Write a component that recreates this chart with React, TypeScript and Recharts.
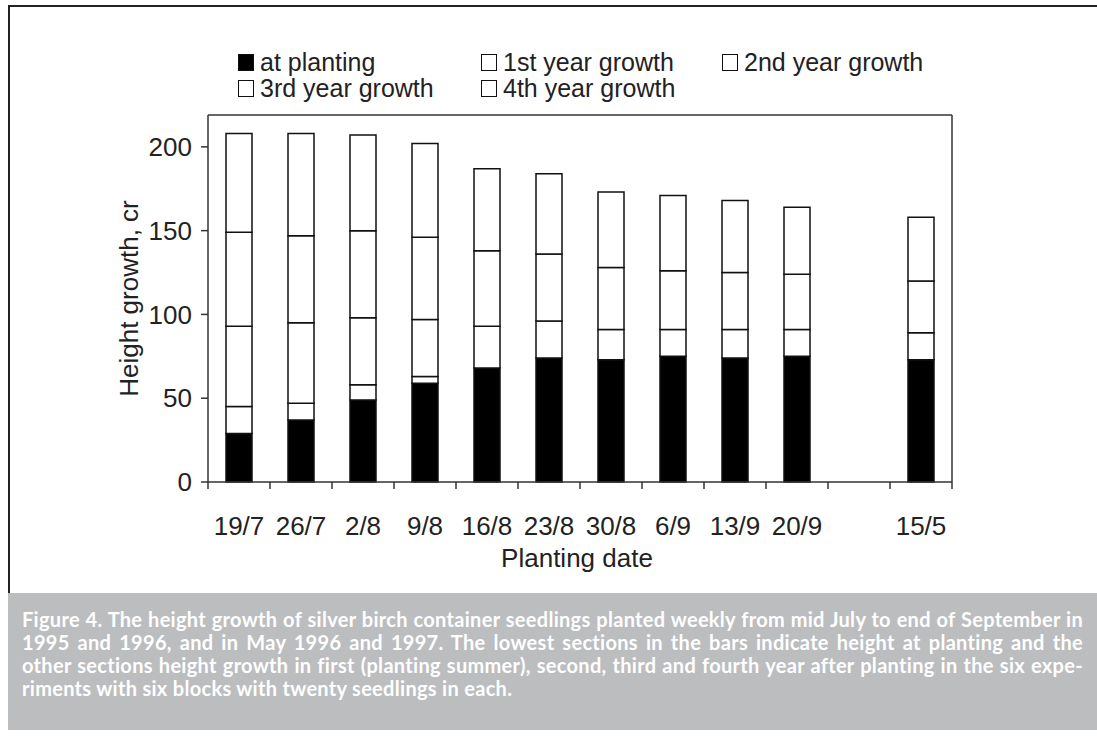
import { Bar, BarChart, Legend, XAxis, YAxis } from 'recharts';

const DATES = ['19/7', '26/7', '2/8', '9/8', '16/8', '23/8', '30/8', '6/9', '13/9', '20/9', '', '15/5'];
const AT_PLANTING = [29, 37, 49, 59, 68, 74, 73, 75, 74, 75, null, 73];
const YEAR_1 = [16, 10, 9, 4, 25, 22, 18, 16, 17, 16, null, 16];
const YEAR_2 = [48, 48, 40, 34, 45, 40, 37, 35, 34, 33, null, 31];
const YEAR_3 = [56, 52, 52, 49, 49, 48, 45, 45, 43, 40, null, 38];
const YEAR_4 = [59, 61, 57, 56, 0, 0, 0, 0, 0, 0, null, 0];

const Y_TICKS = [0, 50, 100, 150, 200];

const SERIES = [
  { key: 'planting', name: 'at planting', fill: '#000000' },
  { key: 'y1', name: '1st year growth', fill: '#ffffff' },
  { key: 'y2', name: '2nd year growth', fill: '#ffffff' },
  { key: 'y3', name: '3rd year growth', fill: '#ffffff' },
  { key: 'y4', name: '4th year growth', fill: '#ffffff' },
];

const CAPTION = [
  'Figure 4. The height growth of silver birch container seedlings planted weekly from mid July to end of September in',
  '1995 and 1996, and in May 1996 and 1997. The lowest sections in the bars indicate height at planting and the',
  'other sections height growth in first (planting summer), second, third and fourth year after planting in the six expe-',
  'riments with six blocks with twenty seedlings in each.',
];

const data = DATES.map((date, i) => ({
  date,
  planting: AT_PLANTING[i],
  y1: YEAR_1[i],
  y2: YEAR_2[i],
  y3: YEAR_3[i],
  y4: YEAR_4[i],
}));

const FONT = '"Liberation Sans", Arial, sans-serif';
const INK = '#222';
const AXIS = '#333';
const X_TICK_GAP = 35;

const emptyTick = () => <g />;

// category labels sit under the bars, tick marks sit on the band edges
function DateTick(props: any) {
  const { x, y, payload, index, visibleTicksCount } = props;
  const half = payload && payload.offset ? payload.offset : 31;
  const axisY = y - X_TICK_GAP;
  const isLast = index === visibleTicksCount - 1;
  return (
    <g>
      <line x1={x - half} x2={x - half} y1={axisY} y2={axisY + 7} stroke={AXIS} strokeWidth={1.5} />
      {isLast && <line x1={x + half} x2={x + half} y1={axisY} y2={axisY + 7} stroke={AXIS} strokeWidth={1.5} />}
      <text x={x} y={y} dy="0.71em" textAnchor="middle" fontFamily={FONT} fontSize={26} fill={INK}>
        {payload.value}
      </text>
    </g>
  );
}

function renderLegend(props: any) {
  const items = [...(props.payload ?? [])].sort(
    (a: any, b: any) =>
      SERIES.findIndex((s) => s.name === a.value) - SERIES.findIndex((s) => s.name === b.value),
  );
  return (
    <div
      style={{
        display: 'grid',
        gridTemplateColumns: '243px 241px 260px',
        fontFamily: FONT,
        fontSize: 25,
        lineHeight: '26px',
        color: INK,
      }}
    >
      {items.map((item: any) => {
        const s = SERIES.find((d) => d.name === item.value);
        return (
          <div key={item.value} style={{ display: 'flex', alignItems: 'center', whiteSpace: 'nowrap', height: 26 }}>
            <span
              style={{
                display: 'inline-block',
                width: 14,
                height: 15,
                border: '1.5px solid #111',
                background: s ? s.fill : '#fff',
                marginRight: 6,
              }}
            />
            <span>{item.value}</span>
          </div>
        );
      })}
    </div>
  );
}

function YLabel({ viewBox }: any) {
  const cx = viewBox.x + 21;
  const cy = viewBox.y + viewBox.height / 2;
  return (
    <text
      x={cx}
      y={cy}
      transform={`rotate(-90 ${cx} ${cy})`}
      textAnchor="middle"
      dominantBaseline="central"
      fontFamily={FONT}
      fontSize={26}
      fill={INK}
    >
      Height growth, cr
    </text>
  );
}

function XLabel({ viewBox }: any) {
  return (
    <text
      x={viewBox.x + viewBox.width / 2 - 3}
      y={viewBox.y + 85}
      textAnchor="middle"
      fontFamily={FONT}
      fontSize={26}
      fill={INK}
    >
      Planting date
    </text>
  );
}

export default function App() {
  return (
    <div style={{ position: 'absolute', left: 0, top: 0, width: 1097, height: 739, overflow: 'hidden', background: '#fff' }}>
      <div
        style={{
          position: 'absolute',
          left: 8,
          top: 5,
          width: 1200,
          height: 590,
          borderTop: '2px solid #222',
          borderLeft: '2px solid #222',
        }}
      />
      <div style={{ position: 'absolute', left: 0, top: 0 }}>
        <BarChart width={1097} height={593} data={data} margin={{ top: 114, right: 144, bottom: 21, left: 108 }}>
          <XAxis
            dataKey="date"
            height={90}
            tickLine={false}
            tickSize={0}
            tickMargin={X_TICK_GAP}
            axisLine={{ stroke: AXIS, strokeWidth: 1.5 }}
            tick={<DateTick />}
            interval={0}
            label={<XLabel />}
          />
          <XAxis
            xAxisId="top"
            orientation="top"
            dataKey="date"
            height={1}
            tick={emptyTick}
            tickLine={false}
            axisLine={{ stroke: AXIS, strokeWidth: 1.5 }}
          />
          <YAxis
            domain={[0, 219]}
            ticks={Y_TICKS}
            width={100}
            tickSize={7}
            tickMargin={9}
            axisLine={{ stroke: AXIS, strokeWidth: 1.5 }}
            tickLine={{ stroke: AXIS, strokeWidth: 1.5 }}
            tick={{ fontFamily: FONT, fontSize: 26, fill: INK }}
            label={<YLabel />}
          />
          <YAxis
            yAxisId="right"
            orientation="right"
            domain={[0, 219]}
            width={1}
            tick={emptyTick}
            tickLine={false}
            axisLine={{ stroke: AXIS, strokeWidth: 1.5 }}
          />
          <Legend
            layout="horizontal"
            verticalAlign="middle"
            align="center"
            content={renderLegend}
            wrapperStyle={{ top: 49, left: 238, width: 760 }}
          />
          {SERIES.map((s) => (
            <Bar
              key={s.key}
              dataKey={s.key}
              name={s.name}
              stackId="h"
              fill={s.fill}
              stroke="#111"
              strokeWidth={1.5}
              barSize={26}
              isAnimationActive={false}
            />
          ))}
        </BarChart>
      </div>
      <div
        style={{
          position: 'absolute',
          left: 8,
          top: 593,
          width: 1089,
          height: 137,
          background: '#bcbdbf',
        }}
      />
      <div
        style={{
          position: 'absolute',
          left: 22,
          top: 608,
          width: 1061,
          fontFamily: 'Lato, "Open Sans", sans-serif',
          fontWeight: 700,
          fontSize: 20,
          letterSpacing: 0.3,
          lineHeight: '23px',
          color: '#ffffff',
        }}
      >
        {CAPTION.map((line, i) => (
          <div
            key={i}
            style={{
              whiteSpace: 'nowrap',
              textAlign: i < CAPTION.length - 1 ? 'justify' : 'left',
              textAlignLast: i < CAPTION.length - 1 ? 'justify' : 'left',
            }}
          >
            {line}
          </div>
        ))}
      </div>
    </div>
  );
}
